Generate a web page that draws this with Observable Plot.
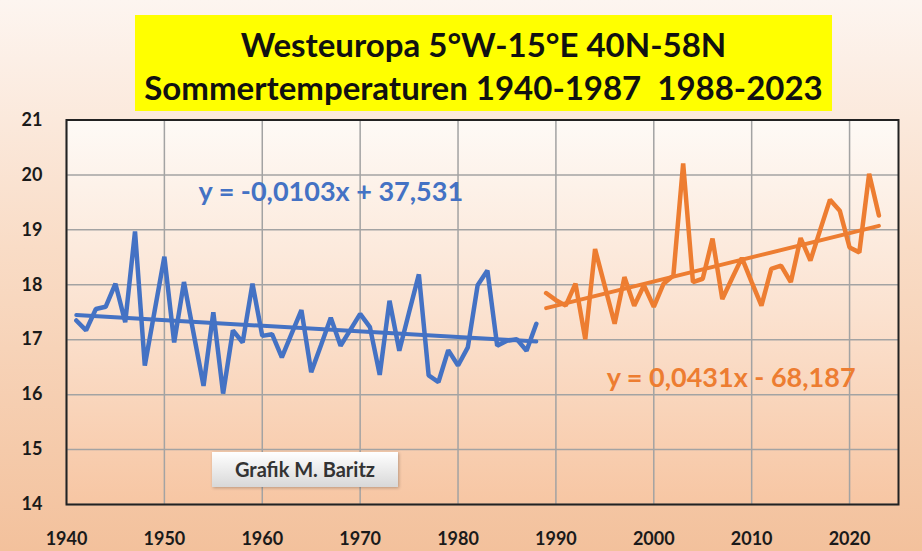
<!DOCTYPE html>
<html>
<head>
<meta charset="utf-8">
<script src="https://cdn.jsdelivr.net/npm/d3@7"></script>
<script src="https://cdn.jsdelivr.net/npm/@observablehq/plot@0.6"></script>
<style>
  html, body { margin: 0; padding: 0; }
  #wrap {
    position: relative; width: 922px; height: 551px; overflow: hidden;
    background: linear-gradient(to bottom, #fdf5f0 0%, #f9dcc6 45%, #f3c19c 100%);
    font-family: Lato, "Open Sans", sans-serif;
  }
  #title {
    position: absolute; left: 135px; top: 15px; width: 697px; height: 96px;
    background: #ffff00; color: #111; font-weight: bold; font-size: 33px;
    text-align: center; line-height: 43px; padding-top: 8px; box-sizing: border-box;
    white-space: nowrap;
  }
  #credit {
    position: absolute; left: 212px; top: 452px; width: 186px; height: 35px;
    background: linear-gradient(to bottom, #ffffff, #d8d8d8);
    box-shadow: 1px 1px 3px rgba(0,0,0,0.25);
    color: #333; font-size: 20px; font-weight: bold; text-align: center; line-height: 35px;
    white-space: nowrap;
  }
  #chart { position: absolute; left: 0; top: 0; }
</style>
</head>
<body>
<div id="wrap">
  <div id="chart"></div>
  <div id="title">Westeuropa 5°W-15°E 40N-58N<br>Sommertemperaturen 1940-1987&nbsp;&nbsp;1988-2023</div>
  <div id="credit">Grafik M. Baritz</div>
</div>
<script>
const yearsA = d3.range(1941, 1989);
const tempsA = [17.35,17.17,17.56,17.60,18.02,17.32,18.97,16.53,17.52,18.51,
                16.95,18.05,17.10,16.16,17.50,16.02,17.17,16.95,18.02,17.07,
                17.10,16.68,17.11,17.54,16.41,16.90,17.40,16.89,17.18,17.47,
                17.23,16.36,17.71,16.80,17.50,18.19,16.35,16.23,16.81,16.53,
                16.86,17.99,18.26,16.89,16.98,17.01,16.80,17.29];
const yearsB = d3.range(1989, 2024);
const tempsB = [17.85,17.72,17.62,18.02,17.01,18.65,17.97,17.29,18.14,17.62,
                17.99,17.60,18.02,18.17,20.21,18.05,18.11,18.84,17.74,18.12,
                18.49,18.05,17.62,18.29,18.35,18.05,18.85,18.44,19.00,19.55,
                19.35,18.68,18.59,20.02,19.26];
const xTicks = [1940,1950,1960,1970,1980,1990,2000,2010,2020];
const yTicks = [14,15,16,17,18,19,20,21];
const eqA = "y = -0,0103x + 37,531";
const eqB = "y = 0,0431x - 68,187";

const dataA = yearsA.map((y, i) => ({year: y, t: tempsA[i]}));
const dataB = yearsB.map((y, i) => ({year: y, t: tempsB[i]}));

const blue = "#4472c4", orange = "#ed7d31";

const plot = Plot.plot({
  width: 922, height: 551,
  marginLeft: 66, marginRight: 24, marginTop: 119.5, marginBottom: 47,
  style: {background: "transparent", fontFamily: "Lato, sans-serif"},
  x: {domain: [1940, 2025], ticks: xTicks},
  y: {domain: [14, 21], ticks: yTicks},
  marks: [
    Plot.frame({fill: "url(#plotGrad)"}),
    Plot.gridX(xTicks, {stroke: "#a3a3a3", strokeOpacity: 1, strokeWidth: 1.5}),
    Plot.gridY(yTicks, {stroke: "#a3a3a3", strokeOpacity: 1, strokeWidth: 1.5}),
    Plot.axisX(xTicks, {tickSize: 0, tickPadding: 28, fontSize: 18, fontWeight: "bold", fill: "#1a1a1a", label: null, tickFormat: d => String(d)}),
    Plot.axisY(yTicks, {tickSize: 0, tickPadding: 24, fontSize: 18, fontWeight: "bold", fill: "#1a1a1a", label: null, tickFormat: d => String(d)}),
    Plot.linearRegressionY(dataA, {x: "year", y: "t", stroke: blue, strokeWidth: 4, ci: 0}),
    Plot.linearRegressionY(dataB, {x: "year", y: "t", stroke: orange, strokeWidth: 4, ci: 0}),
    Plot.line(dataA, {x: "year", y: "t", stroke: blue, strokeWidth: 4.5, strokeLinejoin: "miter"}),
    Plot.line(dataB, {x: "year", y: "t", stroke: orange, strokeWidth: 4.5, strokeLinejoin: "miter"}),
    Plot.text([eqA], {x: 1967, y: 19.68, text: d => d, fill: blue, fontSize: 27, fontWeight: "bold"}),
    Plot.text([eqB], {x: 2007.9, y: 16.29, text: d => d, fill: orange, fontSize: 27, fontWeight: "bold"}),
    Plot.frame({stroke: "#222", strokeWidth: 2})
  ]
});

d3.select(plot).insert("defs", ":first-child").html(
  '<linearGradient id="plotGrad" x1="0" y1="0" x2="0" y2="1">' +
  '<stop offset="0" stop-color="#fefaf6"/>' +
  '<stop offset="0.5" stop-color="#fbe2d0"/>' +
  '<stop offset="1" stop-color="#f7c6a3"/></linearGradient>');

document.getElementById("chart").appendChild(plot);
</script>
</body>
</html>
